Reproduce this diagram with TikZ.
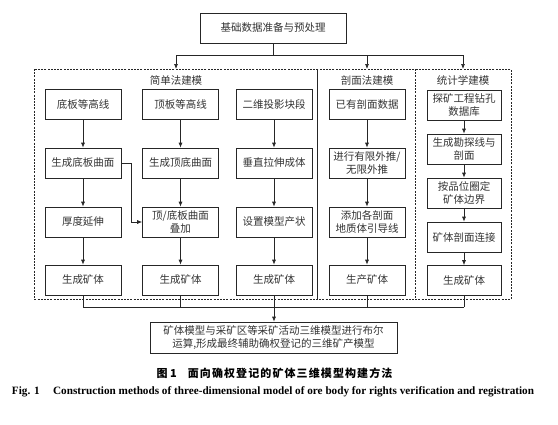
\documentclass[tikz,border=0pt]{standalone}
\usepackage{fontspec}
\setmainfont{Liberation Serif}
\newfontfamily\cjk{Noto Sans CJK SC}
\usetikzlibrary{arrows.meta}
\begin{document}
\begin{tikzpicture}[x=1pt,y=-1pt,
  box/.style={draw=black!85, line width=0.7pt, minimum width=76pt, minimum height=30pt,
    inner sep=1pt, align=center, font=\cjk\fontsize{10.5}{13.5}\selectfont, text=black!80},
  rbox/.style={box, minimum width=74pt},
  arr/.style={draw=black!85, line width=0.7pt, -{Latex[length=5pt,width=4pt]}},
  ln/.style={draw=black!85, line width=0.7pt},
  dln/.style={draw=black!85, line width=0.6pt, dash pattern=on 2pt off 1.2pt},
  ttl/.style={font=\cjk\fontsize{10.5}{13}\selectfont, text=black!80}]
\useasboundingbox (0,0) rectangle (558,424);

% top box
\node[box, minimum width=146pt] (top) at (273,28) {基础数据准备与预处理};

% frames
\coordinate (fTL) at (34,69);
\coordinate (fBR) at (511,299);
\draw[dln] (fTL) rectangle (fBR);
\coordinate (d1t) at (317,69);
\coordinate (d1b) at (317,299);
\draw[ln] (d1t) -- (d1b);
\coordinate (d2t) at (415,69);
\coordinate (d2b) at (415,299);
\draw[dln] (d2t) -- (d2b);

% titles
\node[ttl] (t1) at (176,80) {简单法建模};
\node[ttl] (t2) at (367,80) {剖面法建模};
\node[ttl] (t3) at (463,80) {统计学建模};

% top distribution
\coordinate (split) at (273,55);
\coordinate (s1) at (176,55);
\coordinate (s3) at (463,55);
\coordinate (e1) at (176,69);
\coordinate (e2) at (367,69);
\coordinate (e3) at (463,69);
\draw[ln] (top.south) -- (split);
\draw[ln] (s1) -- (s3);
\draw[arr] (s1) -- (e1);
\draw[arr] (s1 -| e2) -- (e2);
\draw[arr] (s3) -- (e3);

% column 1
\node[box] (a1) at (83,104.5) {底板等高线};
\node[box] (a2) at (83,163) {生成底板曲面};
\node[box] (a3) at (83,222) {厚度延伸};
\node[box] (a4) at (83,280) {生成矿体};
% column 2
\node[box] (b1) at (180.5,104.5) {顶板等高线};
\node[box] (b2) at (180.5,163) {生成顶底曲面};
\node[box] (b3) at (180.5,222) {顶/底板曲面\\叠加};
\node[box] (b4) at (180.5,280) {生成矿体};
% column 3
\node[box] (c1) at (274,104.5) {二维投影块段};
\node[box] (c2) at (274,163) {垂直拉伸成体};
\node[box] (c3) at (274,222) {设置模型产状};
\node[box] (c4) at (274,280) {生成矿体};
% column 4
\node[box] (d1) at (367,104.5) {已有剖面数据};
\node[box] (d2) at (367,163) {进行有限外推/\\无限外推};
\node[box] (d3) at (367,222) {添加各剖面\\地质体引导线};
\node[box] (d4) at (367,280) {生产矿体};
% column 5
\node[rbox] (g1) at (464,105) {探矿工程钻孔\\数据库};
\node[rbox] (g2) at (464,149) {生成勘探线与\\剖面};
\node[rbox] (g3) at (464,193) {按品位圈定\\矿体边界};
\node[rbox] (g4) at (464,237) {矿体剖面连接};
\node[rbox] (g5) at (464,280.5) {生成矿体};

\foreach \c in {a,b,c,d}{
  \draw[arr] (\c1) -- (\c2);
  \draw[arr] (\c2) -- (\c3);
  \draw[arr] (\c3) -- (\c4);
}
\draw[arr] (g1) -- (g2);
\draw[arr] (g2) -- (g3);
\draw[arr] (g3) -- (g4);
\draw[arr] (g4) -- (g5);

% cross connector
\draw[arr] (a2.east) -- ([xshift=10pt]a2.east) |- (b3.west);

% bottom collection
\node[box, minimum width=247pt, minimum height=31pt] (fin) at (273.5,337.5)
  {矿体模型与采矿区等采矿活动三维模型进行布尔\\运算,形成最终辅助确权登记的三维矿产模型};
\coordinate (m1) at (83,307);
\coordinate (m5) at (464,307);
\draw[ln] (a4.south) -- (m1);
\draw[ln] (b4.south) -- (b4.south |- m1);
\draw[ln] (d4.south) -- (d4.south |- m1);
\draw[ln] (g5.south) -- (m5);
\draw[ln] (m1) -- (m5);
\draw[arr] (c4.south) -- (fin.north -| c4.south);

% captions
\node[font=\cjk\bfseries\fontsize{11}{13}\selectfont, inner sep=0pt] (cap1) at (274.5,373)
  {图 1\hspace{1em}面\hspace{0.1em}向\hspace{0.1em}确\hspace{0.1em}权\hspace{0.1em}登\hspace{0.1em}记\hspace{0.1em}的\hspace{0.1em}矿\hspace{0.1em}体\hspace{0.1em}三\hspace{0.1em}维\hspace{0.1em}模\hspace{0.1em}型\hspace{0.1em}构\hspace{0.1em}建\hspace{0.1em}方\hspace{0.1em}法};
\node[font=\bfseries\fontsize{11.2}{13}\selectfont, inner sep=0pt] (cap2) at (273,392)
  {Fig. 1\hspace{1.2em}Construction methods of three-dimensional model of ore body for rights verification and registration};
\end{tikzpicture}
\end{document}
